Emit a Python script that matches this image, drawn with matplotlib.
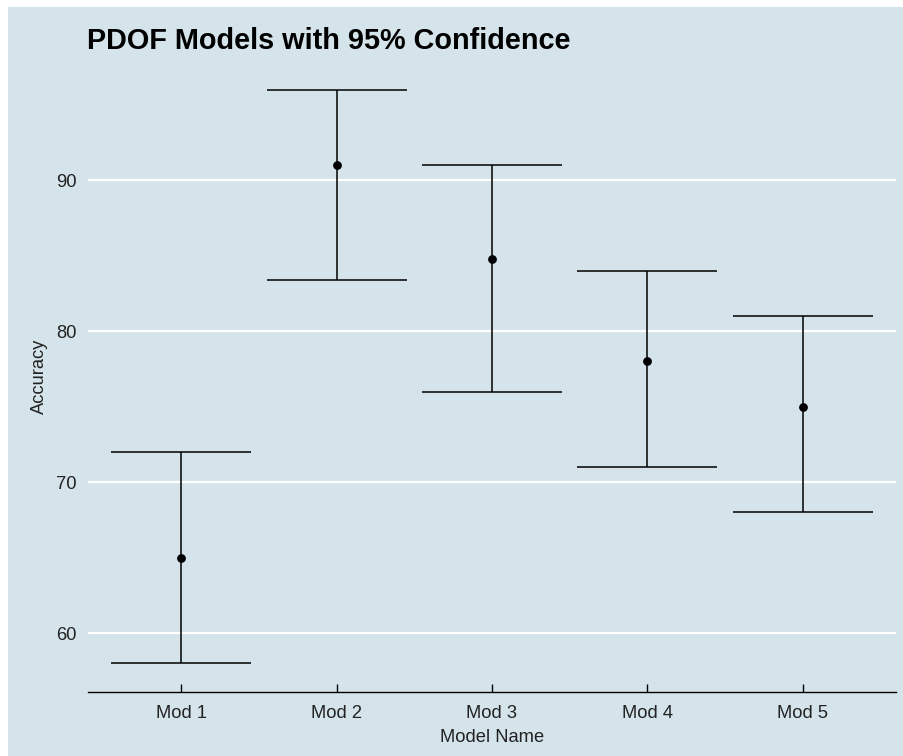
import matplotlib
matplotlib.use("Agg")
import matplotlib.pyplot as plt
from matplotlib.patches import Rectangle

plt.rcParams['font.family'] = ['Liberation Sans', 'DejaVu Sans']

models = ["Mod 1", "Mod 2", "Mod 3", "Mod 4", "Mod 5"]
accuracy = [65.0, 91.0, 84.8, 78.0, 75.0]
lower = [58.0, 83.4, 76.0, 71.0, 68.0]
upper = [72.0, 96.0, 91.0, 84.0, 81.0]

BG = "#d5e4eb"
W, H = 904, 756
TXT = 13.2

fig = plt.figure(figsize=(W / 100, H / 100), dpi=100, facecolor="white")
fig.patches.append(Rectangle((8 / W, 0), 1 - 8 / W, 1 - 7 / H,
                             transform=fig.transFigure, facecolor=BG,
                             edgecolor="none", zorder=-10))

ax = fig.add_axes([88 / W, (H - 692) / H, (896 - 88) / W, (692 - 61) / H])
ax.set_facecolor(BG)

x = list(range(len(models)))
half = 0.45
for xi, lo, hi in zip(x, lower, upper):
    ax.vlines(xi, lo, hi, color="black", lw=1.1, zorder=3)
    ax.hlines([lo, hi], xi - half, xi + half, color="black", lw=1.1, zorder=3)
ax.scatter(x, accuracy, s=28, color="black", zorder=4)

ax.set_xlim(-0.6, len(models) - 0.4)
ax.set_ylim(56.1, 97.9)
ax.set_xticks(x)
ax.set_xticklabels(models)
ax.set_yticks([60, 70, 80, 90])

ax.yaxis.grid(True, color="white", lw=1.6, zorder=1)
ax.xaxis.grid(False)
ax.set_axisbelow(True)

for side in ("top", "left", "right"):
    ax.spines[side].set_visible(False)
ax.spines["bottom"].set_color("black")
ax.spines["bottom"].set_linewidth(1.0)

ax.tick_params(axis="x", direction="in", length=6, width=1.0, color="black",
               labelsize=TXT, pad=9, labelcolor="#222222")
ax.tick_params(axis="y", length=0, labelsize=TXT, pad=8, labelcolor="#222222")

ax.set_xlabel("Model Name", fontsize=TXT, labelpad=5.5, color="#222222")
ax.set_ylabel("Accuracy", fontsize=TXT, labelpad=6, color="#222222")

fig.text(87 / W, 1 - 49 / H, "PDOF Models with 95% Confidence",
         fontsize=20.8, fontweight="bold", ha="left", va="baseline", color="black")

fig.savefig("out.png", dpi=100, facecolor=fig.get_facecolor())
